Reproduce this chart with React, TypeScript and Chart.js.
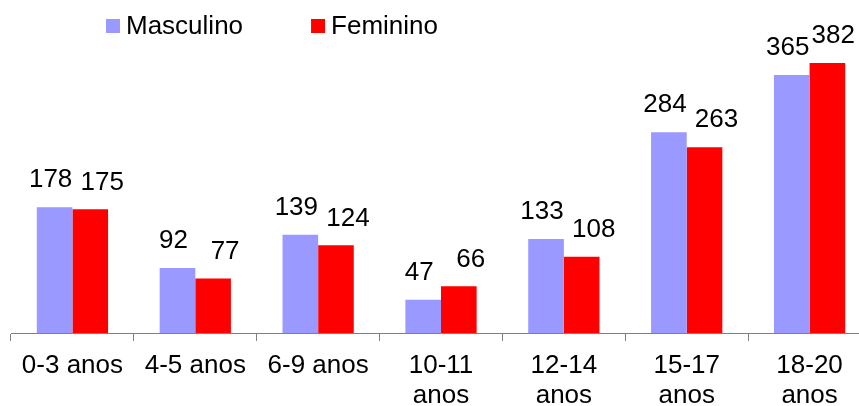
import React, { useEffect, useRef } from "react";
import { Chart, registerables } from "chart.js";

Chart.register(...registerables);

const categories: (string | string[])[] = [
  "0-3 anos",
  "4-5 anos",
  "6-9 anos",
  ["10-11", "anos"],
  ["12-14", "anos"],
  ["15-17", "anos"],
  ["18-20", "anos"],
];
const masculino = [178, 92, 139, 47, 133, 284, 365];
const feminino = [175, 77, 124, 66, 108, 263, 382];
const seriesNames = ["Masculino", "Feminino"];
const seriesColors = ["#9999FF", "#FF0000"];

const FONT = "'Liberation Sans', Arial, sans-serif";
const FONT_SIZE = 26;
const VISIBLE_WIDTH = 859;

const valueLabels = {
  id: "valueLabels",
  afterDatasetsDraw(chart: any) {
    const ctx = chart.ctx;
    ctx.save();
    ctx.font = `${FONT_SIZE}px ${FONT}`;
    ctx.fillStyle = "#000";
    ctx.textAlign = "center";
    ctx.textBaseline = "middle";
    chart.data.datasets.forEach((ds: any, di: number) => {
      const meta = chart.getDatasetMeta(di);
      const shift = di === 0 ? -4 : 12;
      meta.data.forEach((bar: any, i: number) => {
        const txt = String(ds.data[i]);
        const w = ctx.measureText(txt).width;
        const x = Math.min(bar.x + shift, VISIBLE_WIDTH - 4 - w / 2);
        ctx.fillText(txt, x, bar.y - 27);
      });
    });
    ctx.restore();
  },
};

const customLegend = {
  id: "customLegend",
  afterDraw(chart: any) {
    const ctx = chart.ctx;
    ctx.save();
    ctx.font = `${FONT_SIZE}px ${FONT}`;
    ctx.textBaseline = "middle";
    ctx.textAlign = "left";
    let x = 106;
    const y = 19;
    const box = 14;
    chart.data.datasets.forEach((ds: any) => {
      ctx.fillStyle = ds.backgroundColor;
      ctx.fillRect(x, y, box, box);
      ctx.fillStyle = "#000";
      ctx.fillText(ds.label, x + box + 6, y + box / 2 + 1);
      const w = ctx.measureText(ds.label).width;
      x += box + 6 + w + 68;
    });
    ctx.restore();
  },
};

export default function App() {
  const ref = useRef<HTMLCanvasElement>(null);
  useEffect(() => {
    if (!ref.current) return;
    const chart = new Chart(ref.current, {
      type: "bar",
      data: {
        labels: categories,
        datasets: [
          { label: seriesNames[0], data: masculino, backgroundColor: seriesColors[0] },
          { label: seriesNames[1], data: feminino, backgroundColor: seriesColors[1] },
        ],
      },
      options: {
        animation: false,
        responsive: false,
        maintainAspectRatio: false,
        devicePixelRatio: 1,
        layout: { padding: { left: 11, right: 0, top: 15, bottom: 0 } },
        datasets: {
          bar: { categoryPercentage: 0.58, barPercentage: 1.0 },
        },
        plugins: {
          legend: { display: false },
          tooltip: { enabled: false },
        },
        scales: {
          x: {
            grid: {
              offset: true,
              drawOnChartArea: false,
              drawTicks: true,
              tickLength: 8,
              color: "#808080",
            },
            border: { display: true, color: "#808080", width: 1 },
            ticks: {
              color: "#000",
              font: { family: FONT, size: FONT_SIZE, lineHeight: "30px" },
              padding: 10,
              maxRotation: 0,
              autoSkip: false,
            },
            afterFit: (scale: any) => {
              scale.height = 73;
            },
          },
          y: {
            display: false,
            min: 0,
            max: 450,
          },
        },
      },
      plugins: [valueLabels, customLegend],
    });
    return () => chart.destroy();
  }, []);
  return (
    <div
      style={{
        position: "fixed",
        left: 0,
        top: 0,
        width: 859,
        height: 406,
        overflow: "hidden",
        background: "#fff",
      }}
    >
      <canvas ref={ref} width={871} height={406} style={{ display: "block" }} />
    </div>
  );
}
